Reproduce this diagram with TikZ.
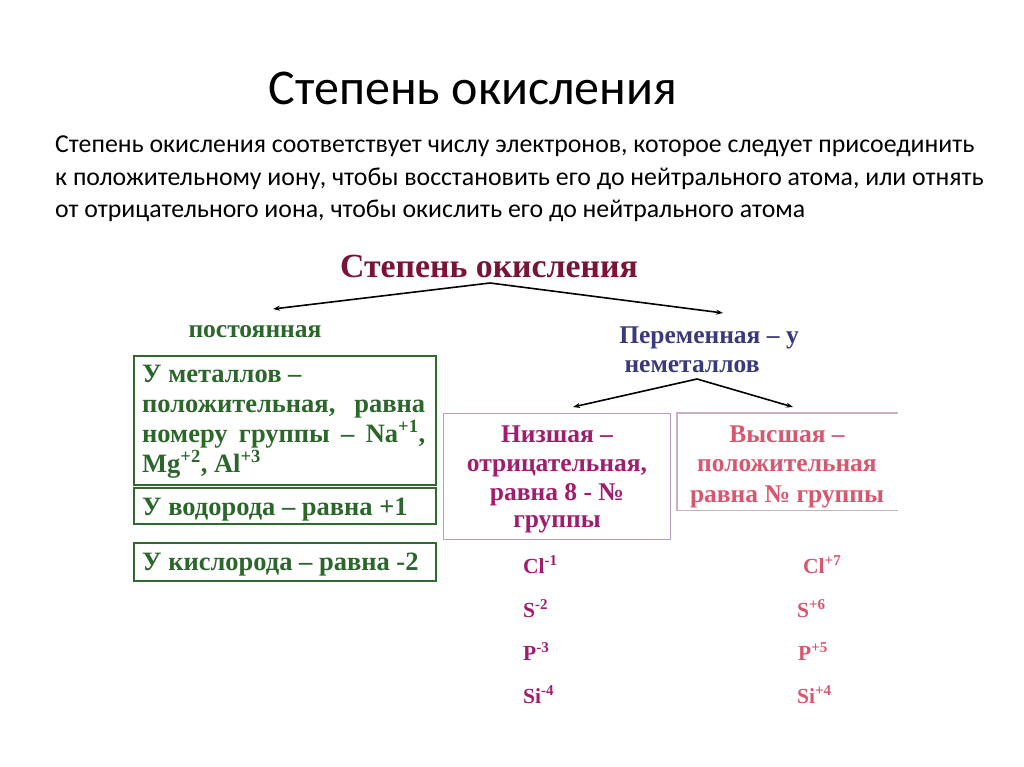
\documentclass[tikz,border=0pt]{standalone}
\usepackage{fontspec}
\setmainfont{Liberation Serif}
\newfontfamily\calfont{Carlito}
\usetikzlibrary{arrows.meta}
\definecolor{rootred}{HTML}{7A1436}
\definecolor{dgreen}{HTML}{2B662B}
\definecolor{gborder}{HTML}{2E6A2E}
\definecolor{navy}{HTML}{3A3A7A}
\definecolor{mag}{HTML}{A21C6C}
\definecolor{lav}{HTML}{B79DC4}
\definecolor{salmon}{HTML}{D8566E}
\definecolor{pborder}{HTML}{CBB0B8}
\tikzset{
  arr/.style={-{Stealth[length=7pt,width=5pt]}, line width=1.6pt, black},
  dtext/.style={font=\bfseries\fontsize{25.5}{30}\selectfont, inner sep=0pt},
  gbox/.style={draw=gborder, line width=2.2pt, anchor=north west},
  gline/.style={font=\bfseries\fontsize{26.5}{30}\selectfont, inner sep=0pt, text=dgreen, anchor=base west},
  lline/.style={dtext, text=mag, anchor=base},
  hline/.style={dtext, text=salmon, anchor=base},
  para/.style={font=\calfont\fontsize{25.8}{32}\selectfont, anchor=base west, inner sep=0pt},
  chem/.style={font=\bfseries\fontsize{21.5}{24}\selectfont, anchor=base west, inner sep=0pt}
}
\begin{document}
\begin{tikzpicture}[x=1pt,y=-1pt]
\useasboundingbox (0,0) rectangle (1024,767);
\fill[white] (0,0) rectangle (1024,767);
% heading
\node[font=\calfont\fontsize{50}{54}\selectfont, anchor=base, inner sep=0pt] (title) at (473,105) {Степень окисления};
\node[para] (p1) at (55,153) {Степень окисления соответствует числу электронов, которое следует присоединить};
\node[para] (p2) at (55,186) {к положительному иону, чтобы восстановить его до нейтрального атома, или отнять};
\node[para] (p3) at (55,218) {от отрицательного иона, чтобы окислить его до нейтрального атома};
% root
\node[font=\bfseries\fontsize{33.8}{38}\selectfont, text=rootred, anchor=base, inner sep=0pt] (root) at (489,277) {Степень окисления};
\coordinate (ra) at (490,283);
\coordinate (rl) at (273,309);
\coordinate (rr) at (723,313);
\draw[arr] (ra) -- (rl);
\draw[arr] (ra) -- (rr);
% constant branch
\node[dtext, text=dgreen, anchor=base] (post) at (255,337) {постоянная};
\node[gbox, minimum width=302pt, minimum height=129pt] (b1) at (133,355) {};
\node[gbox, minimum width=302pt, minimum height=36pt] (b2) at (133,487) {};
\node[gbox, minimum width=302pt, minimum height=38pt] (b3) at (133,542) {};
\node[gline] (b1a) at (142,382) {У металлов –};
\node[gline] (b1b) at (142,412) {\makebox[283pt][s]{положительная, равна}};
\node[gline] (b1c) at (142,442) {\makebox[283pt][s]{номеру группы – Na\textsuperscript{+1},}};
\node[gline] (b1d) at (142,472) {Mg\textsuperscript{+2}, Al\textsuperscript{+3}};
\node[gline] (b2a) at (142,515) {У водорода – равна +1};
\node[gline] (b3a) at (142,570) {У кислорода – равна -2};
% variable branch
\node[dtext, text=navy, anchor=base] (per1) at (709,343) {Переменная – у};
\node[dtext, text=navy, anchor=base] (per2) at (692,372) {неметаллов};
\coordinate (pa) at (697,379);
\coordinate (pl) at (573,407);
\coordinate (pr) at (793,407);
\draw[arr] (pa) -- (pl);
\draw[arr] (pa) -- (pr);
\node[draw=lav, line width=1.3pt, anchor=north west, minimum width=227pt, minimum height=126pt, inner sep=0pt] (low) at (443,413) {};
\node[lline] (l1) at (557,442) {Низшая –};
\node[lline] (l2) at (557,471) {отрицательная,};
\node[lline] (l3) at (557,500) {равна 8 - №};
\node[lline] (l4) at (557,527) {группы};
\node[anchor=north west, minimum width=221pt, minimum height=97pt, inner sep=0pt] (high) at (677,413) {};
\draw[pborder, line width=1.3pt] (high.north east) -- (high.north west) -- (high.south west) -- (high.south east);
\node[hline] (h1) at (787,442) {Высшая –};
\node[hline] (h2) at (787,471) {положительная};
\node[hline] (h3) at (787,502) {равна № группы};
% elements
\node[chem, text=mag] (cl1) at (523,573) {Cl\textsuperscript{-1}};
\node[chem, text=mag] (s1) at (523,617) {S\textsuperscript{-2}};
\node[chem, text=mag] (p1e) at (523,660) {P\textsuperscript{-3}};
\node[chem, text=mag] (si1) at (523,703) {Si\textsuperscript{-4}};
\node[chem, text=salmon] (cl2) at (803,573) {Cl\textsuperscript{+7}};
\node[chem, text=salmon] (s2) at (797,617) {S\textsuperscript{+6}};
\node[chem, text=salmon] (p2e) at (798,660) {P\textsuperscript{+5}};
\node[chem, text=salmon] (si2) at (797,703) {Si\textsuperscript{+4}};
\end{tikzpicture}
\end{document}
